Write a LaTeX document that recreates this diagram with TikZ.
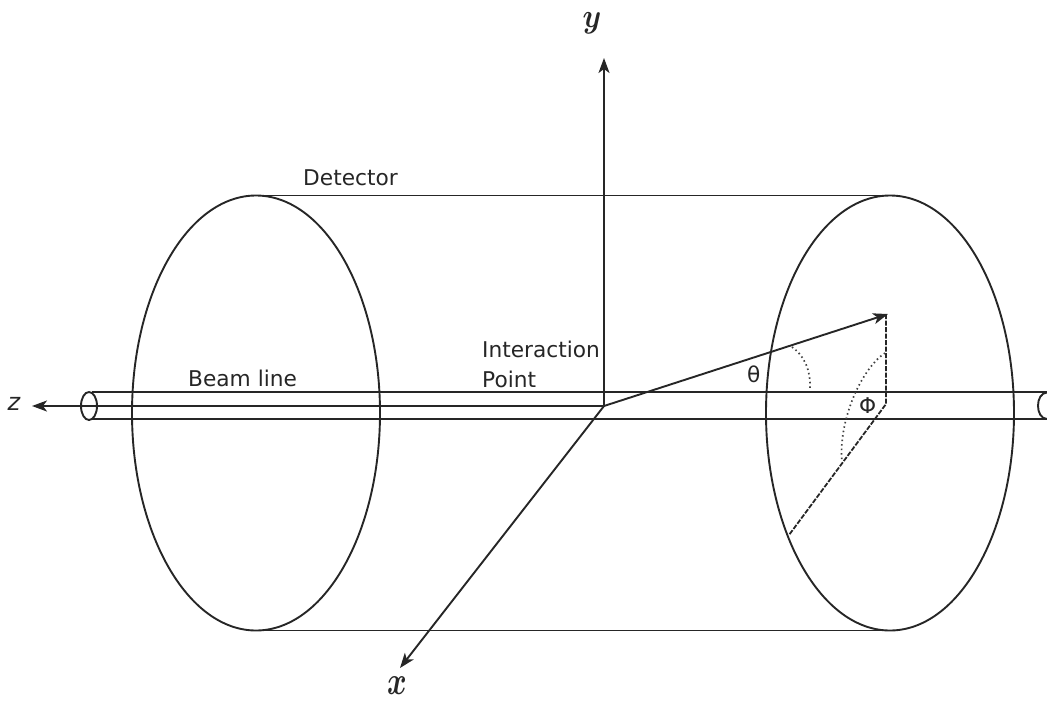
\documentclass[tikz,border=0pt]{standalone}
\usepackage{fontspec}
\setmainfont{DejaVu Sans}
\usetikzlibrary{arrows.meta}
\tikzset{
  ln/.style={line width=1.9pt,black!85},
  thin ln/.style={line width=1.4pt,black!85},
  arr/.style={ln,-{Stealth[length=15pt,width=11pt,inset=4pt]}},
  lab/.style={inner sep=0pt,anchor=base west,font=\fontsize{21.7pt}{24pt}\selectfont,text=black!85},
  axl/.style={inner sep=0pt,font=\fontsize{24pt}{24pt}\selectfont\itshape,text=black!85},
  dsh/.style={line width=1.8pt,black!85,dash pattern=on 5pt off 1.5pt},
  dot/.style={line width=1.7pt,black!75,dash pattern=on 1.5pt off 3pt}
}
\begin{document}
\begin{tikzpicture}[x=1pt,y=-1pt]
\useasboundingbox (0,0) rectangle (1047,702);
\coordinate (ip) at (604,406);
\coordinate (yend) at (604,58);
\coordinate (xend) at (400,668);
\coordinate (zend) at (32,406);
\coordinate (vend) at (888,314);
\coordinate (foot) at (886,404);
\coordinate (rim) at (789,535);
\coordinate (bl) at (92,392);
\coordinate (br) at (92,419);
\coordinate (tl) at (1047,392);
\coordinate (tr) at (1047,419);
% cylinder
\draw[ln] (256,413) ellipse [x radius=124,y radius=217.5];
\draw[ln] (890,413) ellipse [x radius=124,y radius=217.5];
\draw[thin ln] (256,195.5) -- (890,195.5);
\draw[thin ln] (256,630.5) -- (890,630.5);
% beam
\draw[ln] (bl) -- (tl);
\draw[ln] (br) -- (tr);
\draw[ln] (89,406) ellipse [x radius=8,y radius=14];
\draw[ln] (1047,392.5) .. controls (1035,393) and (1035,418.5) .. (1047,419);
% axes
\draw[arr] (ip) -- (zend);
\draw[arr] (ip) -- (yend);
\draw[arr] (ip) -- (xend);
\draw[arr] (ip) -- (vend);
% projections
\draw[dsh] (vend) ++(-2,0) -- (foot) -- (rim);
\draw[dot] (792,347) .. controls (803,355) and (811,368) .. (810,390);
\draw[dot] (885,353) .. controls (862,368) and (838,420) .. (842,462);
% labels
\node[lab] (det) at (303,185) {Detector};
\node[lab] (beam) at (188,386) {Beam line};
\node[lab] (int) at (482,357) {Interaction};
\node[lab] (pt) at (482,387) {Point};
\node[lab] (th) at (747,382) {θ};
\node[lab] (ph) at (859,413) {Φ};
\node[axl] (zl) at (14,404) {z};
\node[inner sep=0pt,text=black!85] (yl) at (592,23) {\scalebox{1.2}[1.35]{\fontsize{24.88pt}{26pt}\selectfont\boldmath$y$}};
\node[inner sep=0pt,text=black!85] (xl) at (397,686) {\scalebox{1.2}[1.6]{\fontsize{24.88pt}{26pt}\selectfont\boldmath$x$}};
\end{tikzpicture}
\end{document}
